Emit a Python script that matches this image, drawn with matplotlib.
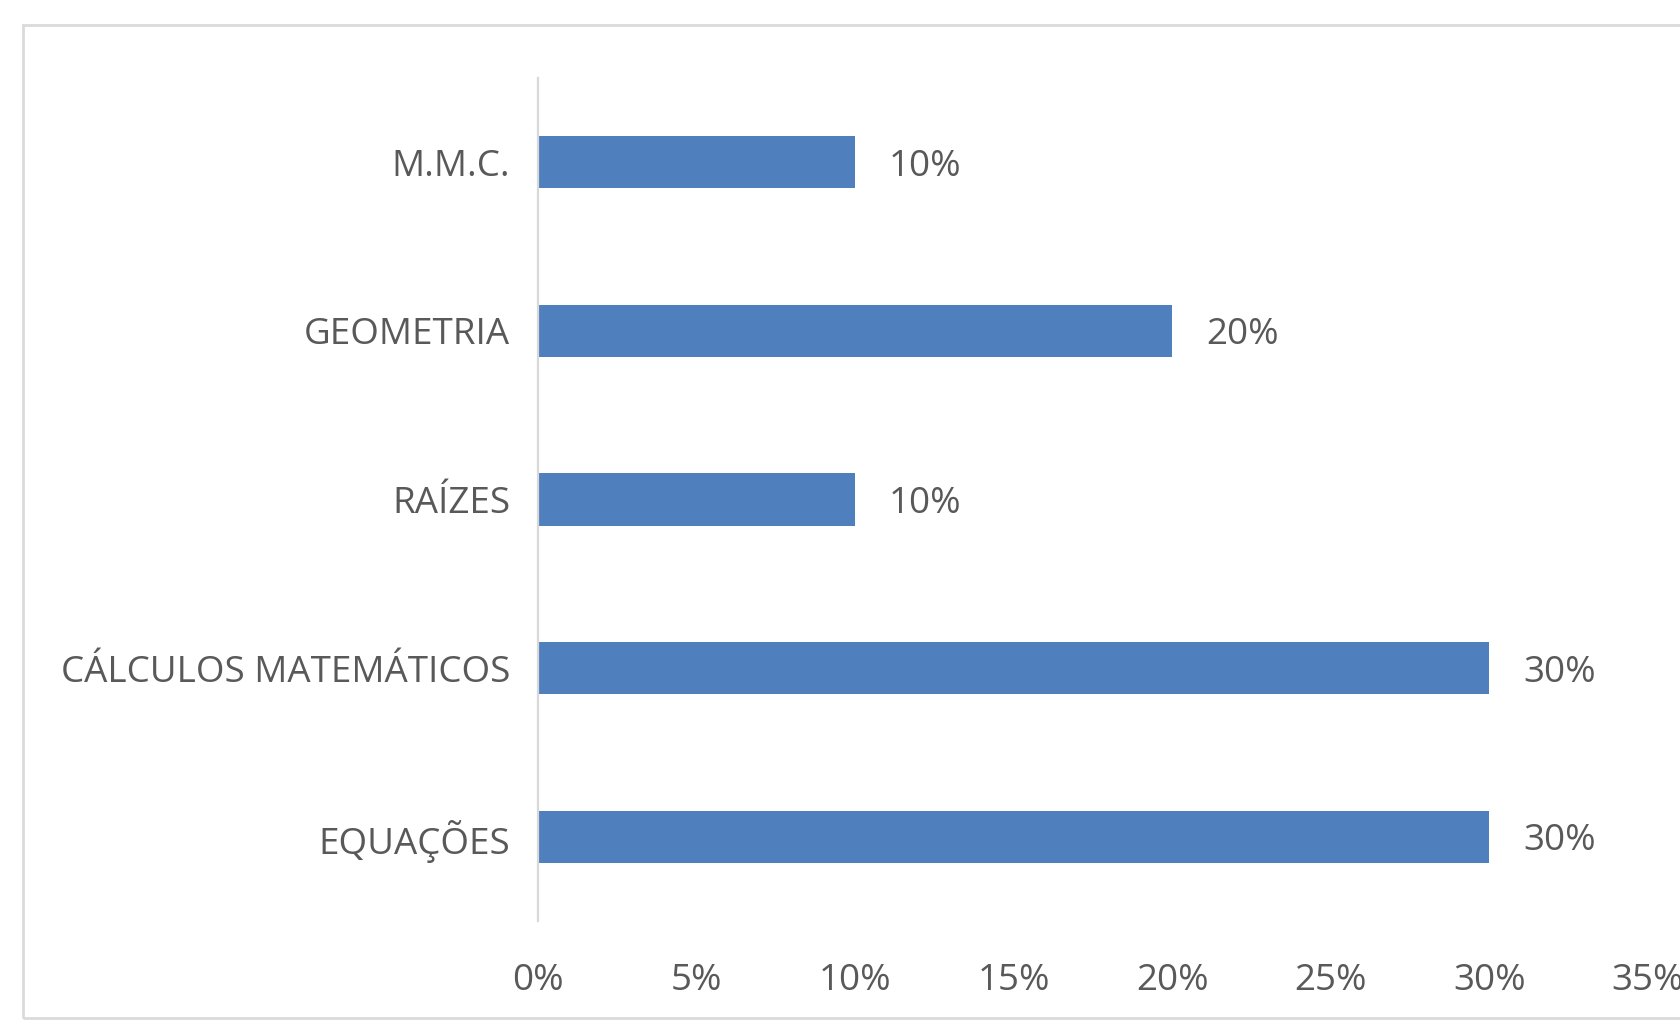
import matplotlib
matplotlib.use("Agg")
import matplotlib.pyplot as plt
from matplotlib.patches import Rectangle
from matplotlib.ticker import FuncFormatter

# Topics (top to bottom) and their shares
categories = ["M.M.C.", "GEOMETRIA", "RAÍZES", "CÁLCULOS MATEMÁTICOS", "EQUAÇÕES"]
values = [0.10, 0.20, 0.10, 0.30, 0.30]
xticks = [0.00, 0.05, 0.10, 0.15, 0.20, 0.25, 0.30, 0.35]

BAR_COLOR = "#4f7fbd"
TEXT_COLOR = "#595959"
LINE_COLOR = "#d9d9d9"
FS = 26.5

plt.rcParams["font.family"] = ["Open Sans", "DejaVu Sans"]

W, H = 1680, 1022
fig = plt.figure(figsize=(W / 100, H / 100), dpi=100)
fig.patch.set_facecolor("white")

# Chart-area frame
frame = Rectangle((23 / W, (H - 1018) / H), (W + 40 - 23) / W, (1018 - 25) / H,
                  transform=fig.transFigure, fill=False,
                  edgecolor="#dadada", linewidth=2.0, zorder=0)
fig.patches.append(frame)

ax = fig.add_axes([538 / W, (H - 921) / H, (1648 - 538) / W, (921 - 78) / H])

ypos = list(range(len(categories)))
ax.barh(ypos, values, height=0.31, color=BAR_COLOR, zorder=2)

ax.set_ylim(len(categories) - 0.5, -0.5)
ax.set_yticks(ypos)
ax.set_yticklabels(categories)
ax.set_xlim(0, 0.35)
ax.set_xticks(xticks)
ax.xaxis.set_major_formatter(FuncFormatter(lambda v, _: f"{round(v * 100):d}%"))

ax.tick_params(axis="y", length=0, pad=20, labelsize=FS, labelcolor=TEXT_COLOR)
ax.tick_params(axis="x", length=0, pad=30, labelsize=FS, labelcolor=TEXT_COLOR)

for side in ("top", "right", "bottom"):
    ax.spines[side].set_visible(False)
ax.spines["left"].set_color(LINE_COLOR)
ax.spines["left"].set_linewidth(1.6)

# Value labels at the end of each bar
for y, v in zip(ypos, values):
    ax.annotate(f"{round(v * 100):d}%", xy=(v, y), xytext=(24.5, 0),
                textcoords="offset points", ha="left", va="center_baseline",
                fontsize=FS, color=TEXT_COLOR)

fig.savefig("out.png", dpi=100, facecolor="white")
